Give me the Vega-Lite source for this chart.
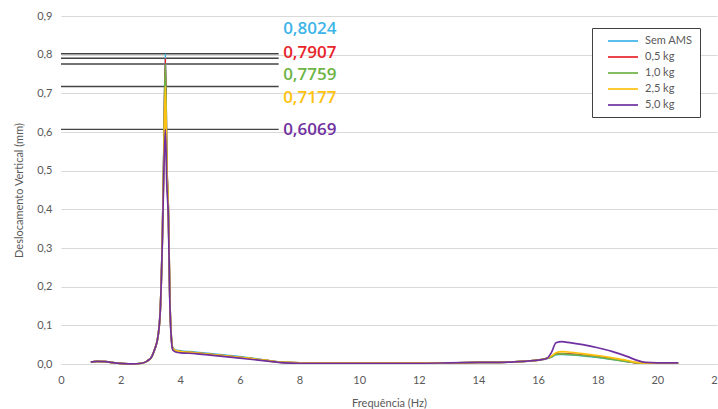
{
  "$schema": "https://vega.github.io/schema/vega-lite/v6.json",
  "width": 656,
  "height": 348,
  "autosize": {"type": "none"},
  "padding": {"left": 61, "top": 16, "right": 1, "bottom": 45},
  "background": "white",
  "config": {
    "locale": {"number": {"decimal": ",", "thousands": ".", "grouping": [3], "currency": ["", ""]}},
    "view": {"stroke": null},
    "font": "Lato",
    "axis": {
      "gridColor": "#D9D9D9", "gridWidth": 1, "ticks": false, "domain": false,
      "labelColor": "#595959", "labelFont": "Lato", "labelFontSize": 11, "labelOverlap": false, "labelFlush": false,
      "titleColor": "#595959", "titleFont": "Lato", "titleFontSize": 11, "titleFontWeight": "normal"
    }
  },
  "datasets": {
    "peaks": [
      {"s": "Sem AMS", "v": 0.8024, "t": "0,8024", "ly": 0.866},
      {"s": "0,5 kg", "v": 0.7907, "t": "0,7907", "ly": 0.805},
      {"s": "1,0 kg", "v": 0.7759, "t": "0,7759", "ly": 0.747},
      {"s": "2,5 kg", "v": 0.7177, "t": "0,7177", "ly": 0.689},
      {"s": "5,0 kg", "v": 0.6069, "t": "0,6069", "ly": 0.605}
    ],
    "curves": [
      {"s":"Sem AMS","f":1.0,"d":0.005},{"s":"Sem AMS","f":1.2,"d":0.007},{"s":"Sem AMS","f":1.5,"d":0.006},{"s":"Sem AMS","f":1.8,"d":0.003},{"s":"Sem AMS","f":2.1,"d":0.001},{"s":"Sem AMS","f":2.4,"d":0.0005},{"s":"Sem AMS","f":2.7,"d":0.002},{"s":"Sem AMS","f":2.9,"d":0.008},{"s":"Sem AMS","f":3.05,"d":0.02},{"s":"Sem AMS","f":3.15,"d":0.04},{"s":"Sem AMS","f":3.25,"d":0.07},{"s":"Sem AMS","f":3.33,"d":0.14},{"s":"Sem AMS","f":3.4,"d":0.33},{"s":"Sem AMS","f":3.45,"d":0.56},{"s":"Sem AMS","f":3.5,"d":0.8024},{"s":"Sem AMS","f":3.55,"d":0.52},{"s":"Sem AMS","f":3.6,"d":0.4},{"s":"Sem AMS","f":3.65,"d":0.17},{"s":"Sem AMS","f":3.7,"d":0.07},{"s":"Sem AMS","f":3.75,"d":0.042},{"s":"Sem AMS","f":3.85,"d":0.036},{"s":"Sem AMS","f":4.0,"d":0.034},{"s":"Sem AMS","f":4.5,"d":0.031},{"s":"Sem AMS","f":5.0,"d":0.027},{"s":"Sem AMS","f":5.5,"d":0.023},{"s":"Sem AMS","f":6.0,"d":0.019},{"s":"Sem AMS","f":6.5,"d":0.014},{"s":"Sem AMS","f":7.0,"d":0.008},{"s":"Sem AMS","f":7.5,"d":0.004},{"s":"Sem AMS","f":8,"d":0.003},{"s":"Sem AMS","f":9,"d":0.003},{"s":"Sem AMS","f":10,"d":0.003},{"s":"Sem AMS","f":11,"d":0.003},{"s":"Sem AMS","f":12,"d":0.003},{"s":"Sem AMS","f":13,"d":0.003},{"s":"Sem AMS","f":14,"d":0.004},{"s":"Sem AMS","f":15,"d":0.005},{"s":"Sem AMS","f":15.5,"d":0.007},{"s":"Sem AMS","f":16,"d":0.01},{"s":"Sem AMS","f":16.3,"d":0.014},{"s":"Sem AMS","f":16.45,"d":0.018},{"s":"Sem AMS","f":16.6,"d":0.024},{"s":"Sem AMS","f":16.8,"d":0.025},{"s":"Sem AMS","f":17,"d":0.024},{"s":"Sem AMS","f":17.5,"d":0.021},{"s":"Sem AMS","f":18,"d":0.017},{"s":"Sem AMS","f":18.5,"d":0.012},{"s":"Sem AMS","f":19,"d":0.006},{"s":"Sem AMS","f":19.3,"d":0.003},{"s":"Sem AMS","f":19.6,"d":0.002},{"s":"Sem AMS","f":20,"d":0.002},{"s":"Sem AMS","f":20.7,"d":0.002},
      {"s":"0,5 kg","f":1.0,"d":0.005},{"s":"0,5 kg","f":1.2,"d":0.007},{"s":"0,5 kg","f":1.5,"d":0.006},{"s":"0,5 kg","f":1.8,"d":0.003},{"s":"0,5 kg","f":2.1,"d":0.001},{"s":"0,5 kg","f":2.4,"d":0.0005},{"s":"0,5 kg","f":2.7,"d":0.002},{"s":"0,5 kg","f":2.9,"d":0.008},{"s":"0,5 kg","f":3.05,"d":0.02},{"s":"0,5 kg","f":3.15,"d":0.04},{"s":"0,5 kg","f":3.25,"d":0.07},{"s":"0,5 kg","f":3.33,"d":0.14},{"s":"0,5 kg","f":3.4,"d":0.33},{"s":"0,5 kg","f":3.45,"d":0.55},{"s":"0,5 kg","f":3.5,"d":0.7907},{"s":"0,5 kg","f":3.55,"d":0.52},{"s":"0,5 kg","f":3.6,"d":0.4},{"s":"0,5 kg","f":3.65,"d":0.17},{"s":"0,5 kg","f":3.7,"d":0.07},{"s":"0,5 kg","f":3.75,"d":0.04},{"s":"0,5 kg","f":3.85,"d":0.034},{"s":"0,5 kg","f":4.0,"d":0.032},{"s":"0,5 kg","f":4.5,"d":0.029},{"s":"0,5 kg","f":5.0,"d":0.025},{"s":"0,5 kg","f":5.5,"d":0.021},{"s":"0,5 kg","f":6.0,"d":0.017},{"s":"0,5 kg","f":6.5,"d":0.013},{"s":"0,5 kg","f":7.0,"d":0.008},{"s":"0,5 kg","f":7.5,"d":0.004},{"s":"0,5 kg","f":8,"d":0.003},{"s":"0,5 kg","f":9,"d":0.003},{"s":"0,5 kg","f":10,"d":0.003},{"s":"0,5 kg","f":11,"d":0.003},{"s":"0,5 kg","f":12,"d":0.003},{"s":"0,5 kg","f":13,"d":0.003},{"s":"0,5 kg","f":14,"d":0.004},{"s":"0,5 kg","f":15,"d":0.005},{"s":"0,5 kg","f":15.5,"d":0.007},{"s":"0,5 kg","f":16,"d":0.01},{"s":"0,5 kg","f":16.3,"d":0.015},{"s":"0,5 kg","f":16.45,"d":0.019},{"s":"0,5 kg","f":16.6,"d":0.026},{"s":"0,5 kg","f":16.8,"d":0.027},{"s":"0,5 kg","f":17,"d":0.026},{"s":"0,5 kg","f":17.5,"d":0.023},{"s":"0,5 kg","f":18,"d":0.019},{"s":"0,5 kg","f":18.5,"d":0.013},{"s":"0,5 kg","f":19,"d":0.007},{"s":"0,5 kg","f":19.3,"d":0.003},{"s":"0,5 kg","f":19.6,"d":0.002},{"s":"0,5 kg","f":20,"d":0.002},{"s":"0,5 kg","f":20.7,"d":0.002},
      {"s":"1,0 kg","f":1.0,"d":0.005},{"s":"1,0 kg","f":1.2,"d":0.007},{"s":"1,0 kg","f":1.5,"d":0.006},{"s":"1,0 kg","f":1.8,"d":0.003},{"s":"1,0 kg","f":2.1,"d":0.001},{"s":"1,0 kg","f":2.4,"d":0.0005},{"s":"1,0 kg","f":2.7,"d":0.002},{"s":"1,0 kg","f":2.9,"d":0.008},{"s":"1,0 kg","f":3.05,"d":0.02},{"s":"1,0 kg","f":3.15,"d":0.04},{"s":"1,0 kg","f":3.25,"d":0.07},{"s":"1,0 kg","f":3.33,"d":0.14},{"s":"1,0 kg","f":3.4,"d":0.33},{"s":"1,0 kg","f":3.45,"d":0.55},{"s":"1,0 kg","f":3.5,"d":0.7759},{"s":"1,0 kg","f":3.55,"d":0.51},{"s":"1,0 kg","f":3.6,"d":0.4},{"s":"1,0 kg","f":3.65,"d":0.17},{"s":"1,0 kg","f":3.7,"d":0.07},{"s":"1,0 kg","f":3.75,"d":0.04},{"s":"1,0 kg","f":3.85,"d":0.034},{"s":"1,0 kg","f":4.0,"d":0.032},{"s":"1,0 kg","f":4.5,"d":0.029},{"s":"1,0 kg","f":5.0,"d":0.025},{"s":"1,0 kg","f":5.5,"d":0.021},{"s":"1,0 kg","f":6.0,"d":0.017},{"s":"1,0 kg","f":6.5,"d":0.013},{"s":"1,0 kg","f":7.0,"d":0.008},{"s":"1,0 kg","f":7.5,"d":0.004},{"s":"1,0 kg","f":8,"d":0.003},{"s":"1,0 kg","f":9,"d":0.003},{"s":"1,0 kg","f":10,"d":0.003},{"s":"1,0 kg","f":11,"d":0.003},{"s":"1,0 kg","f":12,"d":0.003},{"s":"1,0 kg","f":13,"d":0.003},{"s":"1,0 kg","f":14,"d":0.004},{"s":"1,0 kg","f":15,"d":0.005},{"s":"1,0 kg","f":15.5,"d":0.007},{"s":"1,0 kg","f":16,"d":0.01},{"s":"1,0 kg","f":16.3,"d":0.015},{"s":"1,0 kg","f":16.45,"d":0.018},{"s":"1,0 kg","f":16.6,"d":0.025},{"s":"1,0 kg","f":16.8,"d":0.026},{"s":"1,0 kg","f":17,"d":0.025},{"s":"1,0 kg","f":17.5,"d":0.022},{"s":"1,0 kg","f":18,"d":0.018},{"s":"1,0 kg","f":18.5,"d":0.012},{"s":"1,0 kg","f":19,"d":0.006},{"s":"1,0 kg","f":19.3,"d":0.003},{"s":"1,0 kg","f":19.6,"d":0.002},{"s":"1,0 kg","f":20,"d":0.002},{"s":"1,0 kg","f":20.7,"d":0.002},
      {"s":"2,5 kg","f":1.0,"d":0.005},{"s":"2,5 kg","f":1.2,"d":0.007},{"s":"2,5 kg","f":1.5,"d":0.006},{"s":"2,5 kg","f":1.8,"d":0.003},{"s":"2,5 kg","f":2.1,"d":0.001},{"s":"2,5 kg","f":2.4,"d":0.0005},{"s":"2,5 kg","f":2.7,"d":0.002},{"s":"2,5 kg","f":2.9,"d":0.008},{"s":"2,5 kg","f":3.05,"d":0.02},{"s":"2,5 kg","f":3.15,"d":0.04},{"s":"2,5 kg","f":3.25,"d":0.07},{"s":"2,5 kg","f":3.33,"d":0.14},{"s":"2,5 kg","f":3.4,"d":0.33},{"s":"2,5 kg","f":3.45,"d":0.53},{"s":"2,5 kg","f":3.5,"d":0.7177},{"s":"2,5 kg","f":3.55,"d":0.5},{"s":"2,5 kg","f":3.6,"d":0.4},{"s":"2,5 kg","f":3.65,"d":0.17},{"s":"2,5 kg","f":3.7,"d":0.07},{"s":"2,5 kg","f":3.75,"d":0.04},{"s":"2,5 kg","f":3.85,"d":0.035},{"s":"2,5 kg","f":4.0,"d":0.032},{"s":"2,5 kg","f":4.5,"d":0.029},{"s":"2,5 kg","f":5.0,"d":0.025},{"s":"2,5 kg","f":5.5,"d":0.021},{"s":"2,5 kg","f":6.0,"d":0.017},{"s":"2,5 kg","f":6.5,"d":0.013},{"s":"2,5 kg","f":7.0,"d":0.008},{"s":"2,5 kg","f":7.5,"d":0.004},{"s":"2,5 kg","f":8,"d":0.003},{"s":"2,5 kg","f":9,"d":0.003},{"s":"2,5 kg","f":10,"d":0.003},{"s":"2,5 kg","f":11,"d":0.003},{"s":"2,5 kg","f":12,"d":0.003},{"s":"2,5 kg","f":13,"d":0.003},{"s":"2,5 kg","f":14,"d":0.004},{"s":"2,5 kg","f":15,"d":0.005},{"s":"2,5 kg","f":15.5,"d":0.007},{"s":"2,5 kg","f":16,"d":0.01},{"s":"2,5 kg","f":16.3,"d":0.015},{"s":"2,5 kg","f":16.45,"d":0.021},{"s":"2,5 kg","f":16.6,"d":0.029},{"s":"2,5 kg","f":16.8,"d":0.032},{"s":"2,5 kg","f":17,"d":0.031},{"s":"2,5 kg","f":17.5,"d":0.027},{"s":"2,5 kg","f":18,"d":0.022},{"s":"2,5 kg","f":18.5,"d":0.016},{"s":"2,5 kg","f":19,"d":0.009},{"s":"2,5 kg","f":19.3,"d":0.004},{"s":"2,5 kg","f":19.6,"d":0.002},{"s":"2,5 kg","f":20,"d":0.002},{"s":"2,5 kg","f":20.7,"d":0.002},
      {"s":"5,0 kg","f":1.0,"d":0.005},{"s":"5,0 kg","f":1.2,"d":0.007},{"s":"5,0 kg","f":1.5,"d":0.006},{"s":"5,0 kg","f":1.8,"d":0.003},{"s":"5,0 kg","f":2.1,"d":0.001},{"s":"5,0 kg","f":2.4,"d":0.0005},{"s":"5,0 kg","f":2.7,"d":0.002},{"s":"5,0 kg","f":2.9,"d":0.008},{"s":"5,0 kg","f":3.05,"d":0.02},{"s":"5,0 kg","f":3.15,"d":0.04},{"s":"5,0 kg","f":3.25,"d":0.07},{"s":"5,0 kg","f":3.33,"d":0.14},{"s":"5,0 kg","f":3.4,"d":0.32},{"s":"5,0 kg","f":3.45,"d":0.5},{"s":"5,0 kg","f":3.5,"d":0.6069},{"s":"5,0 kg","f":3.55,"d":0.46},{"s":"5,0 kg","f":3.6,"d":0.38},{"s":"5,0 kg","f":3.65,"d":0.16},{"s":"5,0 kg","f":3.7,"d":0.065},{"s":"5,0 kg","f":3.75,"d":0.036},{"s":"5,0 kg","f":3.85,"d":0.031},{"s":"5,0 kg","f":4.0,"d":0.029},{"s":"5,0 kg","f":4.5,"d":0.027},{"s":"5,0 kg","f":5.0,"d":0.023},{"s":"5,0 kg","f":5.5,"d":0.019},{"s":"5,0 kg","f":6.0,"d":0.015},{"s":"5,0 kg","f":6.5,"d":0.011},{"s":"5,0 kg","f":7.0,"d":0.007},{"s":"5,0 kg","f":7.5,"d":0.003},{"s":"5,0 kg","f":8,"d":0.002},{"s":"5,0 kg","f":9,"d":0.002},{"s":"5,0 kg","f":10,"d":0.002},{"s":"5,0 kg","f":11,"d":0.002},{"s":"5,0 kg","f":12,"d":0.002},{"s":"5,0 kg","f":13,"d":0.003},{"s":"5,0 kg","f":14,"d":0.004},{"s":"5,0 kg","f":15,"d":0.005},{"s":"5,0 kg","f":15.5,"d":0.007},{"s":"5,0 kg","f":16,"d":0.01},{"s":"5,0 kg","f":16.3,"d":0.015},{"s":"5,0 kg","f":16.45,"d":0.03},{"s":"5,0 kg","f":16.6,"d":0.055},{"s":"5,0 kg","f":16.8,"d":0.058},{"s":"5,0 kg","f":17,"d":0.056},{"s":"5,0 kg","f":17.5,"d":0.05},{"s":"5,0 kg","f":18,"d":0.042},{"s":"5,0 kg","f":18.5,"d":0.032},{"s":"5,0 kg","f":19,"d":0.019},{"s":"5,0 kg","f":19.3,"d":0.01},{"s":"5,0 kg","f":19.6,"d":0.004},{"s":"5,0 kg","f":20,"d":0.003},{"s":"5,0 kg","f":20.7,"d":0.003}
    ]
  },
  "encoding": {
    "x": {"type": "quantitative",
          "scale": {"domain": [0, 22], "nice": false},
          "title": "Frequência (Hz)",
          "axis": {"values": [0,2,4,6,8,10,12,14,16,18,20,22], "format": "d", "labelPadding": 10, "titlePadding": 12, "domain": true, "domainColor": "#D9D9D9"}},
    "y": {"type": "quantitative",
          "scale": {"domain": [0, 0.9], "nice": false, "zero": true},
          "title": "Deslocamento Vertical (mm)",
          "axis": {"tickCount": 9, "format": ".1f", "labelPadding": 9, "titlePadding": 12}}
  },
  "layer": [
    {
      "data": {"name": "peaks"},
      "mark": {"type": "rule", "color": "#444444", "strokeWidth": 1.3},
      "encoding": {
        "x": {"datum": 0, "type": "quantitative"},
        "x2": {"datum": 7.3},
        "y": {"field": "v", "type": "quantitative"}
      }
    },
    {
      "data": {"name": "curves"},
      "mark": {"type": "line", "interpolate": "monotone"},
      "encoding": {
        "x": {"field": "f", "type": "quantitative"},
        "y": {"field": "d", "type": "quantitative"},
        "color": {"field": "s", "type": "nominal", "title": null,
                  "scale": {"domain": ["Sem AMS", "0,5 kg", "1,0 kg", "2,5 kg", "5,0 kg"],
                            "range": ["#3DB5E8", "#E8242B", "#6DB446", "#FFC20E", "#7030A0"]},
                  "legend": {"orient": "none", "legendX": 531, "legendY": 12, "strokeColor": "#404040",
                             "padding": 7, "symbolType": "M0.6,0H6.6", "symbolSize": 100,
                             "labelFont": "Lato", "labelFontSize": 11, "labelColor": "#595959", "rowPadding": 5,
                             "labelOffset": 34, "fillColor": "white", "offset": 0}},
        "strokeWidth": {"field": "s", "type": "nominal", "title": null,
                        "scale": {"domain": ["Sem AMS", "0,5 kg", "1,0 kg", "2,5 kg", "5,0 kg"], "range": [1.7, 1.7, 1.7, 1.7, 2.7]},
                        "legend": {"orient": "none", "legendX": 531, "legendY": 12, "strokeColor": "#404040",
                             "padding": 7, "symbolType": "M0.6,0H6.6", "symbolSize": 100,
                             "labelFont": "Lato", "labelFontSize": 11, "labelColor": "#595959", "rowPadding": 5,
                             "labelOffset": 34, "fillColor": "white", "offset": 0}}
      }
    },
    {
      "data": {"name": "peaks"},
      "mark": {"type": "text", "align": "left", "baseline": "middle", "font": "Open Sans", "fontWeight": 600, "fontSize": 17},
      "encoding": {
        "x": {"datum": 7.45, "type": "quantitative"},
        "y": {"field": "ly", "type": "quantitative"},
        "text": {"field": "t"},
        "color": {"field": "s", "type": "nominal", "legend": null}
      }
    }
  ]
}
